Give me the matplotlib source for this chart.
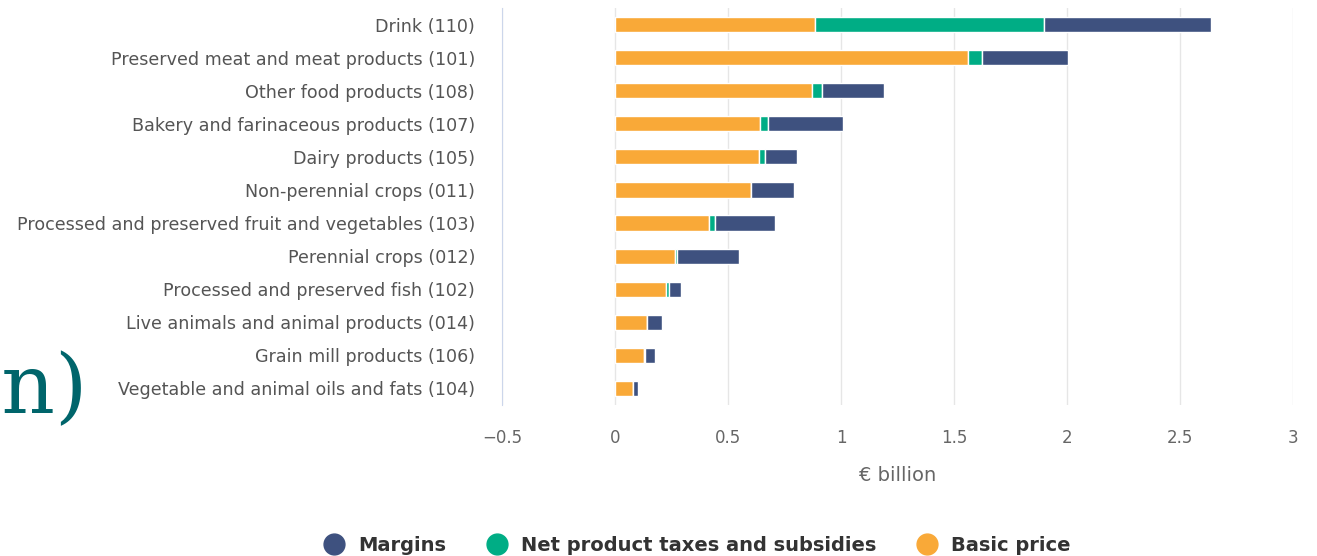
import matplotlib
matplotlib.use("Agg")
import matplotlib.pyplot as plt
from matplotlib.lines import Line2D

plt.rcParams["font.family"] = ["DejaVu Sans"]

categories = [
    "Drink (110)",
    "Preserved meat and meat products (101)",
    "Other food products (108)",
    "Bakery and farinaceous products (107)",
    "Dairy products (105)",
    "Non-perennial crops (011)",
    "Processed and preserved fruit and vegetables (103)",
    "Perennial crops (012)",
    "Processed and preserved fish (102)",
    "Live animals and animal products (014)",
    "Grain mill products (106)",
    "Vegetable and animal oils and fats (104)",
]
basic_price = [0.883, 1.562, 0.873, 0.643, 0.635, 0.601, 0.417, 0.265, 0.224, 0.143, 0.128, 0.078]
net_taxes = [1.016, 0.063, 0.042, 0.034, 0.028, 0.0, 0.025, 0.008, 0.016, 0.0, 0.006, 0.0]
margins = [0.740, 0.379, 0.275, 0.333, 0.143, 0.189, 0.266, 0.276, 0.050, 0.064, 0.041, 0.024]
xticks = [-0.5, 0, 0.5, 1, 1.5, 2, 2.5, 3]

C_ORANGE = "#f9a938"
C_GREEN = "#00ad85"
C_NAVY = "#3e517f"

fig = plt.figure(figsize=(13.17, 5.56), dpi=100)
ax = fig.add_axes([0.3812, 0.2716, 0.6006, 0.714])

ypos = list(range(len(categories)))
left2 = [b + t for b, t in zip(basic_price, net_taxes)]
kw = dict(height=0.46, edgecolor="white", linewidth=1, zorder=3)
ax.barh(ypos, basic_price, color=C_ORANGE, **kw)
ax.barh(ypos, net_taxes, left=basic_price, color=C_GREEN, **kw)
ax.barh(ypos, margins, left=left2, color=C_NAVY, **kw)

ax.set_xlim(-0.5, 3)
ax.set_ylim(len(categories) - 0.5, -0.5)
ax.set_xticks(xticks)
ax.set_xticklabels(["\u22120.5" if v == -0.5 else f"{v:g}" for v in xticks])
ax.set_yticks(ypos)
ax.set_yticklabels(categories)
ax.grid(axis="x", color="#e6e6e6", linewidth=1, zorder=0)
ax.set_axisbelow(True)
for s in ["top", "right", "bottom"]:
    ax.spines[s].set_visible(False)
ax.spines["left"].set_color("#ccd6eb")
ax.tick_params(axis="x", length=0, pad=17, labelsize=12, labelcolor="#666666")
ax.tick_params(axis="y", length=0, pad=19.5, labelsize=12.6, labelcolor="#555555")
ax.set_xlabel("\u20ac billion", fontsize=14, color="#666666", labelpad=14)

handles = [
    Line2D([], [], marker="o", ls="", color=C_NAVY, markersize=15),
    Line2D([], [], marker="o", ls="", color=C_GREEN, markersize=15),
    Line2D([], [], marker="o", ls="", color=C_ORANGE, markersize=15),
]
leg = fig.legend(handles, ["Margins", "Net product taxes and subsidies", "Basic price"],
                 loc="center", bbox_to_anchor=(0.5295, 0.019), ncol=3, frameon=False,
                 handlelength=1.0, handletextpad=0.74, columnspacing=2.1,
                 prop={"weight": "bold", "size": 14})
for t in leg.get_texts():
    t.set_color("#333333")

# title fragment cut off at the left edge of the reference
fig.text(88 / 1317, 1 - 413 / 556, "on)", fontsize=60, color="#00656b",
         family="DejaVu Serif", va="baseline", ha="right")

fig.savefig("out.png", dpi=100, facecolor="white")
